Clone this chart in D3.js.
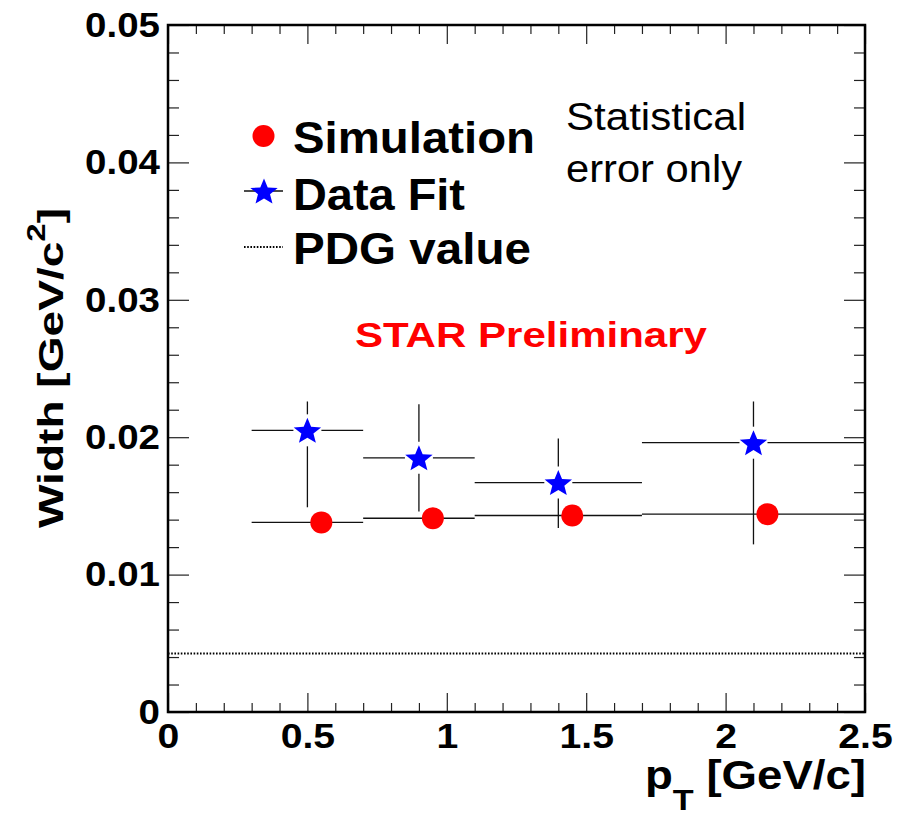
<!DOCTYPE html>
<html>
<head>
<meta charset="utf-8">
<script src="https://cdn.jsdelivr.net/npm/d3@7"></script>
<style>
  html, body { margin: 0; padding: 0; background: #fff; }
  svg { display: block; }
  text { font-family: "Liberation Sans", Arial, Helvetica, sans-serif; }
</style>
</head>
<body>
<svg id="chart" width="908" height="816"></svg>
<script>
// ---- data ----
const binLow   = [0.3, 0.7, 1.1, 1.7];
const binHigh  = [0.7, 1.1, 1.7, 2.5];

const dataX       = [0.5, 0.9, 1.4, 2.1];
const dataY       = [0.0205, 0.0185, 0.0167, 0.0196];
const dataErrUp   = [0.0021, 0.0039, 0.0032, 0.0030];
const dataErrDown = [0.0056, 0.0039, 0.0033, 0.0074];

const simX   = [0.55, 0.95, 1.45, 2.15];
const simY   = [0.0138, 0.0141, 0.0143, 0.0144];
const simErr = [0.0002, 0.0002, 0.0002, 0.0002];

const pdgWidth = 0.00426;

const xTicks = [0, 0.5, 1, 1.5, 2, 2.5];
const xTickLabels = ["0", "0.5", "1", "1.5", "2", "2.5"];
const yTicks = [0, 0.01, 0.02, 0.03, 0.04, 0.05];
const yTickLabels = ["0", "0.01", "0.02", "0.03", "0.04", "0.05"];

const legendLabels = ["Simulation", "Data Fit", "PDG value"];

// ---- layout ----
const width = 908, height = 816;
const margin = { left: 168, right: 43, top: 25, bottom: 104 };
const svg = d3.select("#chart");

const x = d3.scaleLinear().domain([0, 2.5]).range([margin.left, width - margin.right]);
const y = d3.scaleLinear().domain([0, 0.05]).range([height - margin.bottom, margin.top]);

const RED = "#ff0000", BLUE = "#0000ff";
const STAR_RX = 14.4, STAR_RY = 13.8, STAR_INNER = 0.44;

// widen glyphs horizontally about their anchor point
function stretchX(sel, sx) {
  sel.each(function () {
    const bb = this.getBBox();
    const anchor = this.getAttribute("text-anchor") || getComputedStyle(this).textAnchor || "start";
    const ax = anchor === "end" ? bb.x + bb.width : anchor === "middle" ? bb.x + bb.width / 2 : bb.x;
    d3.select(this).attr("transform", `translate(${ax},0) scale(${sx},1) translate(${-ax},0)`);
  });
}

// five-point star marker, its bounding box centred on (cx, cy)
function starPath(cx, cy, rx, ry, inner) {
  const p = d3.path();
  const dy = ry * (1 - Math.cos(Math.PI / 5)) / 2;
  for (let i = 0; i < 10; i++) {
    const a = -Math.PI / 2 + i * Math.PI / 5;
    const k = i % 2 === 0 ? 1 : inner;
    const px = cx + rx * k * Math.cos(a);
    const py = cy + dy + ry * k * Math.sin(a);
    if (i === 0) p.moveTo(px, py); else p.lineTo(px, py);
  }
  p.closePath();
  return p.toString();
}

// ---- axes (ticks point inward, mirrored on top/right) ----
const xMinor = d3.range(0, 2.5001, 0.1).filter(v => Math.abs(v * 2 - Math.round(v * 2)) > 1e-6);
const yMinor = d3.range(0, 0.05001, 0.002).filter(v => Math.abs(v * 100 - Math.round(v * 100)) > 1e-6);

function styleAxis(g) {
  g.select(".domain").remove();
  g.selectAll(".tick line").attr("stroke", "#222").attr("stroke-width", 1.2);
}

const x0 = height - margin.bottom, y0 = margin.top;
const xl = margin.left, xr = width - margin.right;

// bottom
const gxb = svg.append("g").attr("transform", `translate(0,${x0})`)
  .call(d3.axisBottom(x).tickValues(xTicks).tickFormat((d, i) => xTickLabels[i]).tickSize(-19).tickPadding(11))
  .call(styleAxis);
svg.append("g").attr("transform", `translate(0,${x0})`)
  .call(d3.axisBottom(x).tickValues(xMinor).tickFormat("").tickSize(-9)).call(styleAxis);
// top
svg.append("g").attr("transform", `translate(0,${y0})`)
  .call(d3.axisTop(x).tickValues(xTicks).tickFormat("").tickSize(-19)).call(styleAxis);
svg.append("g").attr("transform", `translate(0,${y0})`)
  .call(d3.axisTop(x).tickValues(xMinor).tickFormat("").tickSize(-9)).call(styleAxis);
// left
const gyl = svg.append("g").attr("transform", `translate(${xl},0)`)
  .call(d3.axisLeft(y).tickValues(yTicks).tickFormat((d, i) => yTickLabels[i]).tickSize(-21).tickPadding(8))
  .call(styleAxis);
svg.append("g").attr("transform", `translate(${xl},0)`)
  .call(d3.axisLeft(y).tickValues(yMinor).tickFormat("").tickSize(-11)).call(styleAxis);
// right
svg.append("g").attr("transform", `translate(${xr},0)`)
  .call(d3.axisRight(y).tickValues(yTicks).tickFormat("").tickSize(-21)).call(styleAxis);
svg.append("g").attr("transform", `translate(${xr},0)`)
  .call(d3.axisRight(y).tickValues(yMinor).tickFormat("").tickSize(-11)).call(styleAxis);

[gxb, gyl].forEach(g => g.selectAll(".tick text")
  .attr("font-family", "Liberation Sans, Arial, sans-serif")
  .attr("font-size", 35).attr("font-weight", "bold").attr("fill", "#000"));
stretchX(gxb.selectAll(".tick text"), 1.12);
stretchX(gyl.selectAll(".tick text"), 1.1);

// frame
svg.append("rect")
  .attr("x", xl).attr("y", y0).attr("width", xr - xl).attr("height", x0 - y0)
  .attr("fill", "none").attr("stroke", "#000").attr("stroke-width", 2.5);

// ---- PDG reference line ----
svg.append("line")
  .attr("x1", x(0)).attr("x2", x(2.5)).attr("y1", y(pdgWidth)).attr("y2", y(pdgWidth))
  .attr("stroke", "#000").attr("stroke-width", 2).attr("stroke-dasharray", "1.6,1.6");

// ---- error bars ----
const bars = svg.append("g").attr("stroke", "#111").attr("stroke-width", 1.3);
const gapX = 14, gapY = 16;

// simulation: horizontal bin bars, tiny vertical errors
simX.forEach((v, i) => {
  bars.append("line").attr("x1", x(binLow[i])).attr("x2", x(binHigh[i]))
    .attr("y1", y(simY[i])).attr("y2", y(simY[i]));
  bars.append("line").attr("x1", x(v)).attr("x2", x(v))
    .attr("y1", y(simY[i] - simErr[i])).attr("y2", y(simY[i] + simErr[i]));
});

// data fit: bars broken around the marker
dataX.forEach((v, i) => {
  const cx = x(v), cy = y(dataY[i]);
  bars.append("line").attr("x1", x(binLow[i])).attr("x2", cx - gapX).attr("y1", cy).attr("y2", cy);
  bars.append("line").attr("x1", cx + gapX).attr("x2", x(binHigh[i])).attr("y1", cy).attr("y2", cy);
  bars.append("line").attr("x1", cx).attr("x2", cx).attr("y1", y(dataY[i] + dataErrUp[i])).attr("y2", cy - gapY);
  bars.append("line").attr("x1", cx).attr("x2", cx).attr("y1", cy + gapY).attr("y2", y(dataY[i] - dataErrDown[i]));
});

// ---- markers ----
svg.append("g").selectAll("circle").data(simX).join("circle")
  .attr("cx", d => x(d)).attr("cy", (d, i) => y(simY[i])).attr("r", 11)
  .attr("fill", RED);

svg.append("g").selectAll("path").data(dataX).join("path")
  .attr("d", (d, i) => starPath(x(d), y(dataY[i]), STAR_RX, STAR_RY, STAR_INNER))
  .attr("fill", BLUE);

// ---- legend ----
const leg = svg.append("g");
leg.append("circle").attr("cx", 263.5).attr("cy", 136).attr("r", 11).attr("fill", RED);
leg.append("line").attr("x1", 244).attr("x2", 283).attr("y1", 191).attr("y2", 191)
  .attr("stroke", "#111").attr("stroke-width", 1.3);
leg.append("path").attr("d", starPath(264, 191, STAR_RX, STAR_RY, STAR_INNER)).attr("fill", BLUE);
leg.append("line").attr("x1", 244).attr("x2", 283).attr("y1", 247).attr("y2", 247)
  .attr("stroke", "#000").attr("stroke-width", 2).attr("stroke-dasharray", "1.6,1.6");

const legendRows = [
  { t: legendLabels[0], y: 153, w: 242 },
  { t: legendLabels[1], y: 210, w: 172 },
  { t: legendLabels[2], y: 264, w: 238 }
];
legendRows.forEach(r => {
  leg.append("text").attr("x", 293).attr("y", r.y)
    .attr("font-size", 44).attr("font-weight", "bold")
    .attr("textLength", r.w).attr("lengthAdjust", "spacingAndGlyphs")
    .text(r.t);
});

// ---- annotations ----
svg.append("text").attr("x", 566).attr("y", 130).attr("font-size", 38)
  .attr("textLength", 180).attr("lengthAdjust", "spacingAndGlyphs").text("Statistical");
svg.append("text").attr("x", 566).attr("y", 182).attr("font-size", 38)
  .attr("textLength", 176).attr("lengthAdjust", "spacingAndGlyphs").text("error only");

svg.append("text").attr("x", 355).attr("y", 347).attr("font-size", 35).attr("font-weight", "bold")
  .attr("fill", RED).attr("textLength", 352).attr("lengthAdjust", "spacingAndGlyphs")
  .text("STAR Preliminary");

// ---- axis titles ----
const xt = svg.append("text").attr("x", 866).attr("y", 789).attr("text-anchor", "end")
  .attr("font-size", 40).attr("font-weight", "bold");
xt.append("tspan").text("p");
xt.append("tspan").attr("font-size", 30).attr("dy", 21).text("T");
xt.append("tspan").attr("dy", -21).text(" [GeV/c]");
stretchX(xt, 1.14);

const yt = svg.append("text")
  .attr("transform", "translate(63,368) rotate(-90)")
  .attr("text-anchor", "middle").attr("font-size", 35).attr("font-weight", "bold")
  .attr("textLength", 320).attr("lengthAdjust", "spacingAndGlyphs");
yt.append("tspan").text("Width [GeV/c");
yt.append("tspan").attr("font-size", 25).attr("dy", -18).text("2");
yt.append("tspan").attr("dy", 18).text("]");
</script>
</body>
</html>
